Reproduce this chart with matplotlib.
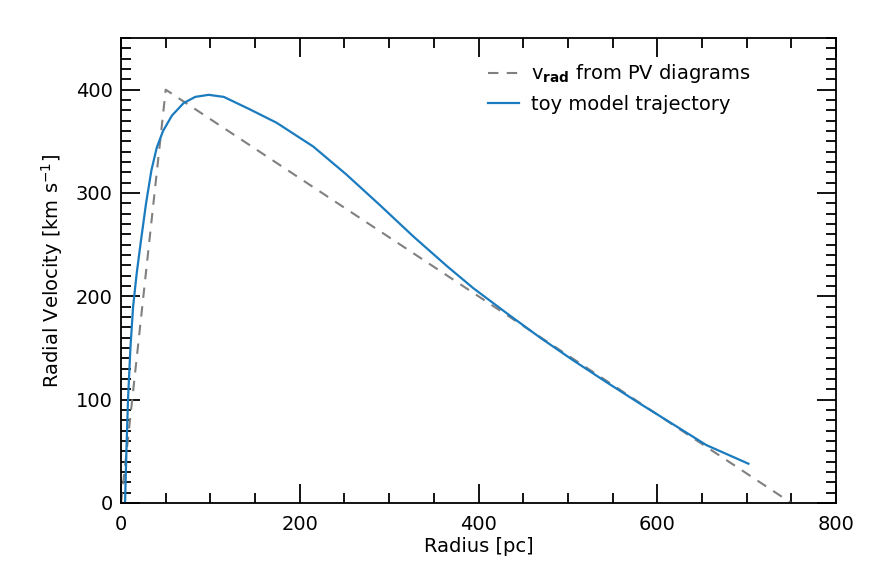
import matplotlib
matplotlib.use("Agg")
import matplotlib.pyplot as plt
from matplotlib.ticker import MultipleLocator

# v_rad from PV diagrams (piecewise linear)
pv_radius = [0, 50, 750]
pv_vel = [0, 400, 0]

# toy model trajectory
toy_radius = [4.5, 6, 7.8, 10.5, 13.5, 17.5, 22, 28, 34, 40, 47, 57, 70, 83, 98,
              115, 144, 174, 215, 252, 290, 327, 365, 394, 431, 469, 506, 543,
              580, 618, 655, 702]
toy_vel = [0, 50, 100, 150, 190, 222, 252, 290, 322, 344, 360, 375, 387, 393, 395,
           393, 381, 368, 345, 318, 288, 258, 229, 208, 184, 160, 138, 117,
           96.5, 76, 56, 38]

plt.rcParams['font.family'] = 'DejaVu Sans'

fig = plt.figure(figsize=(8.72, 5.81), dpi=100)
ax = fig.add_axes([0.1388, 0.1343, 0.8199, 0.8003])

ax.plot(pv_radius, pv_vel, color='#808080', lw=1.5, dashes=(5, 4),
        label=r'v$_{\mathbf{rad}}$ from PV diagrams')
ax.plot(toy_radius, toy_vel, color='#1a7bbf', lw=1.6, label='toy model trajectory')

ax.set_xlim(0, 800)
ax.set_ylim(0, 450)
ax.xaxis.set_major_locator(MultipleLocator(200))
ax.xaxis.set_minor_locator(MultipleLocator(50))
ax.yaxis.set_major_locator(MultipleLocator(100))
ax.yaxis.set_minor_locator(MultipleLocator(10))

ax.tick_params(which='both', direction='in', top=True, right=True, width=1.3,
               labelsize=14, colors='black')
ax.tick_params(which='major', length=14)
ax.tick_params(which='minor', length=7)
ax.tick_params(axis='x', pad=9)
ax.tick_params(axis='y', pad=6)
for sp in ax.spines.values():
    sp.set_linewidth(1.3)

ax.set_xlabel('Radius [pc]', fontsize=14, labelpad=2)
ax.set_ylabel(r'Radial Velocity [km s$^{-1}$]', fontsize=14, labelpad=8)

ax.legend(loc='upper right', frameon=False, fontsize=14, handlelength=1.6,
          handletextpad=0.6, labelspacing=0.5, bbox_to_anchor=(0.905, 0.985))

fig.savefig('out.png', dpi=100)
